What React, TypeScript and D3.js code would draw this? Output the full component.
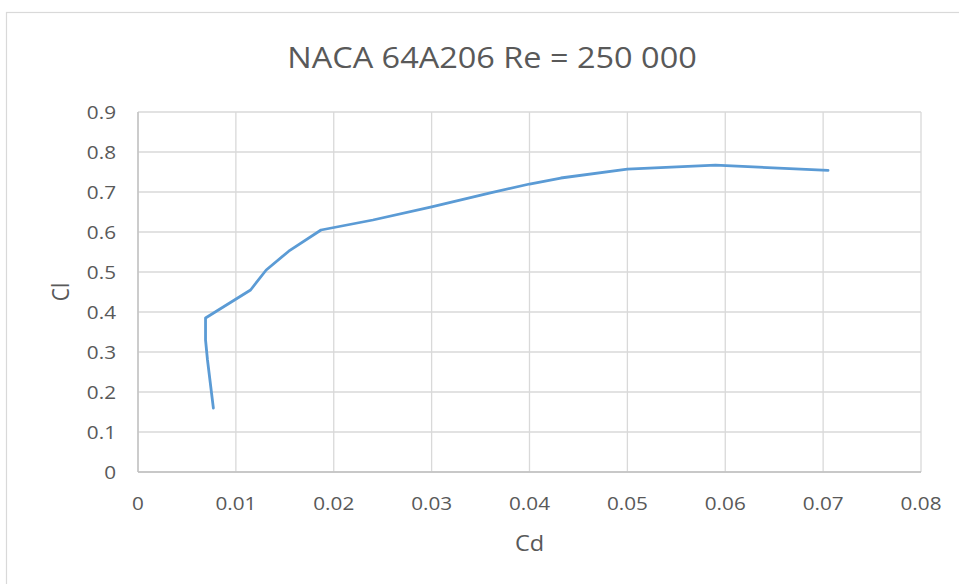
import React from 'react';
import * as d3 from 'd3';

// Polar: lift coefficient vs drag coefficient
const cdValues = [0.0077, 0.0071, 0.0069, 0.0069, 0.0115, 0.0131, 0.0154, 0.0187, 0.024, 0.03, 0.036, 0.04, 0.0432, 0.05, 0.059, 0.0705];
const clValues = [0.16, 0.28, 0.33, 0.385, 0.455, 0.505, 0.552, 0.605, 0.63, 0.663, 0.698, 0.72, 0.735, 0.757, 0.767, 0.754];
const xTicks = [0, 0.01, 0.02, 0.03, 0.04, 0.05, 0.06, 0.07, 0.08];
const yTicks = [0, 0.1, 0.2, 0.3, 0.4, 0.5, 0.6, 0.7, 0.8, 0.9];

const TITLE = 'NACA 64A206 Re = 250 000';
const X_TITLE = 'Cd';
const Y_TITLE = 'Cl';

const W = 959;
const H = 584;
const plot = { left: 138, right: 921, top: 112, bottom: 472 };
const FONT = '"Open Sans", "Noto Sans", sans-serif';
const TEXT = '#595959';
const SX = 1.12; // reference text is a little wide

function Label({ x, y, size, anchor = 'middle', rotate = 0, children }: any) {
  return (
    <text
      transform={`translate(${x},${y}) scale(${SX},1) rotate(${rotate})`}
      fontSize={size}
      fontFamily={FONT}
      fill={TEXT}
      textAnchor={anchor}
    >
      {children}
    </text>
  );
}

export default function App() {
  const x = d3.scaleLinear().domain([0, 0.08]).range([plot.left, plot.right]);
  const y = d3.scaleLinear().domain([0, 0.9]).range([plot.bottom, plot.top]);
  const pts = cdValues.map((c, i) => [c, clValues[i]] as [number, number]);
  const path = d3.line<[number, number]>().x(d => x(d[0])).y(d => y(d[1]))(pts) || '';
  const fmt = (v: number) => (v === 0 ? '0' : d3.format('.2~f')(v));
  const fmtY = (v: number) => (v === 0 ? '0' : d3.format('.1f')(v));

  return (
    <div style={{ position: 'absolute', left: 0, top: 0 }}>
      <svg width={W} height={H} style={{ display: 'block', background: '#fff' }}>
        <rect x={6.5} y={12.5} width={W + 10} height={H + 10} fill="#fff" stroke="#d9d9d9" strokeWidth={1.2} />
        <Label x={492 / SX * SX} y={68} size={29}>{TITLE}</Label>

        {yTicks.map(t => (
          <line key={'gy' + t} x1={plot.left} x2={plot.right} y1={y(t)} y2={y(t)} stroke="#d9d9d9" strokeWidth={1.3} />
        ))}
        {xTicks.map(t => (
          <line key={'gx' + t} x1={x(t)} x2={x(t)} y1={plot.top} y2={plot.bottom} stroke="#d9d9d9" strokeWidth={1.3} />
        ))}
        <line x1={plot.left} x2={plot.left} y1={plot.top} y2={plot.bottom} stroke="#bfbfbf" strokeWidth={1.3} />
        <line x1={plot.left} x2={plot.right} y1={plot.bottom} y2={plot.bottom} stroke="#bfbfbf" strokeWidth={1.3} />

        {xTicks.map(t => (
          <Label key={'lx' + t} x={x(t)} y={510} size={18.5}>{fmt(t)}</Label>
        ))}
        {yTicks.map(t => (
          <Label key={'ly' + t} x={116} y={y(t) + 6.7} size={18.5} anchor="end">{fmtY(t)}</Label>
        ))}

        <Label x={(plot.left + plot.right) / 2} y={551} size={21}>{X_TITLE}</Label>
        <Label x={69} y={(plot.top + plot.bottom) / 2} size={21} rotate={-90}>{Y_TITLE}</Label>

        <path d={path} fill="none" stroke="#5b9bd5" strokeWidth={2.8} strokeLinejoin="round" strokeLinecap="round" />
      </svg>
    </div>
  );
}
